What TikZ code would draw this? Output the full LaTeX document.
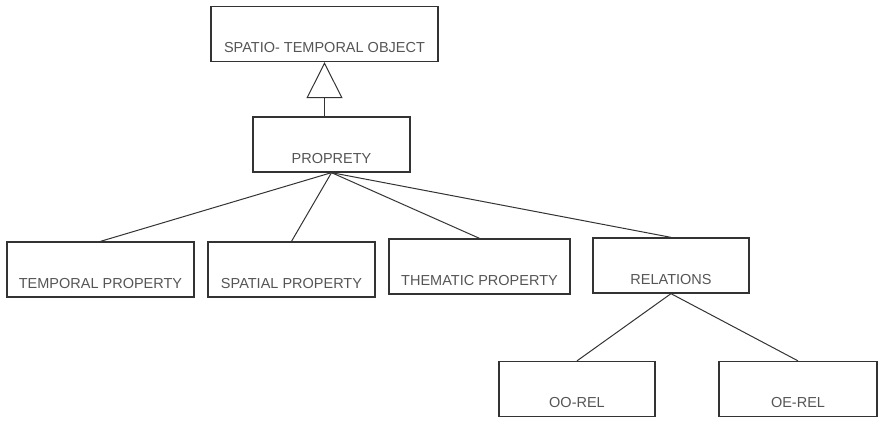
\documentclass[tikz,border=0pt]{standalone}
\usepackage{fontspec}
\setmainfont{Liberation Sans}
\usetikzlibrary{arrows.meta}
\definecolor{boxline}{HTML}{333333}
\definecolor{boxtext}{HTML}{555555}
\begin{document}
\begin{tikzpicture}[x=1pt,y=-1pt,
  box/.style={draw=boxline,line width=1.3pt,minimum height=55pt,inner ysep=3pt,
    text height=43pt,text depth=6pt,text=boxtext,font=\fontsize{14.5}{15}\selectfont},
  link/.style={draw=boxline,line width=1pt}]
\useasboundingbox (0,0) rectangle (880,420);
\node[box,minimum width=227pt] (obj) at (324.5,34) {SPATIO- TEMPORAL OBJECT};
\node[box,minimum width=157pt] (prop) at (331.5,144.5) {PROPRETY};
\node[box,minimum width=187pt] (temp) at (100.5,269.5) {TEMPORAL PROPERTY};
\node[box,minimum width=167pt] (spat) at (291.5,269.5) {SPATIAL PROPERTY};
\node[box,minimum width=181pt] (them) at (479.5,266.5) {THEMATIC PROPERTY};
\node[box,minimum width=156pt] (rel) at (671,265.5) {RELATIONS};
\node[box,minimum width=156pt] (oo) at (577,389) {OO-REL};
\node[box,minimum width=158pt] (oe) at (798,389) {OE-REL};
\draw[link,-{Triangle[open,length=36pt,width=36pt,line width=1pt]}] (prop.north -| obj.south) -- (obj.south);
\draw[link] (prop.south) -- (temp.north);
\draw[link] (prop.south) -- (spat.north);
\draw[link] (prop.south) -- (them.north);
\draw[link] (prop.south) -- (rel.north);
\draw[link] (rel.south) -- (oo.north);
\draw[link] (rel.south) -- (oe.north);
\end{tikzpicture}
\end{document}
